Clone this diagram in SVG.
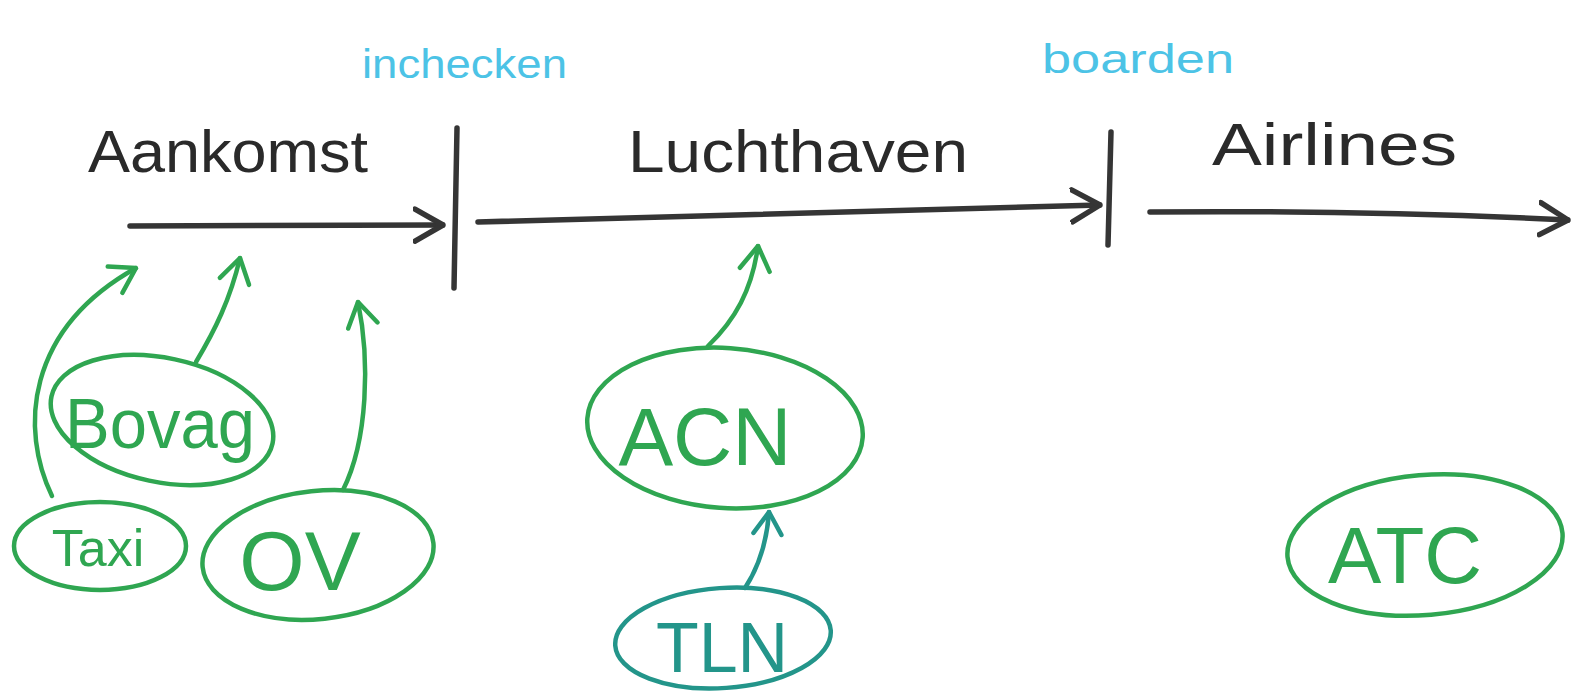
<svg xmlns="http://www.w3.org/2000/svg" width="1573" height="700" viewBox="0 0 1573 700">
<style>
.ink{fill:none;stroke:#353535;stroke-width:5.5;stroke-linecap:round;stroke-linejoin:round}
.g{fill:none;stroke:#2fa651;stroke-width:4.5;stroke-linecap:round;stroke-linejoin:round}
.t{fill:none;stroke:#23958a;stroke-width:4.5;stroke-linecap:round;stroke-linejoin:round}
.lbl{font-family:"Liberation Sans",Arial,sans-serif;fill:#2a2a2a;font-size:60px}
.cy{font-family:"Liberation Sans",Arial,sans-serif;fill:#4cc3e6;font-size:40px}
.gt{font-family:"Liberation Sans",Arial,sans-serif;fill:#2fa651;text-anchor:middle}
.tt{font-family:"Liberation Sans",Arial,sans-serif;fill:#23958a;text-anchor:middle}
</style>
<defs>
<marker id="hb" viewBox="-30 -20 32 40" markerWidth="32" markerHeight="40" refX="0" refY="0" orient="auto" markerUnits="userSpaceOnUse">
<path d="M-28,-16 L0,0 L-28,16" fill="none" stroke="#353535" stroke-width="5.5" stroke-linecap="round" stroke-linejoin="round"/>
</marker>
<marker id="hg" viewBox="-30 -20 32 40" markerWidth="32" markerHeight="40" refX="0" refY="0" orient="auto" markerUnits="userSpaceOnUse">
<path d="M-24,-15 L0,0 L-24,15" fill="none" stroke="#2fa651" stroke-width="4.5" stroke-linecap="round" stroke-linejoin="round"/>
</marker>
<marker id="ht" viewBox="-30 -20 32 40" markerWidth="32" markerHeight="40" refX="0" refY="0" orient="auto" markerUnits="userSpaceOnUse">
<path d="M-22,-14 L0,0 L-22,14" fill="none" stroke="#23958a" stroke-width="4.5" stroke-linecap="round" stroke-linejoin="round"/>
</marker>
</defs>
<rect width="1573" height="700" fill="#ffffff"/>

<g id="labels">
<text class="lbl" x="88" y="172" textLength="280" lengthAdjust="spacingAndGlyphs">Aankomst</text>
<text class="lbl" x="628" y="172" textLength="340" lengthAdjust="spacingAndGlyphs">Luchthaven</text>
<text class="lbl" x="1212" y="165" textLength="245" lengthAdjust="spacingAndGlyphs">Airlines</text>
<text class="cy" x="362" y="78" textLength="205" lengthAdjust="spacingAndGlyphs">inchecken</text>
<text class="cy" x="1042" y="73" textLength="192" lengthAdjust="spacingAndGlyphs">boarden</text>
</g>

<g id="timeline">
<path class="ink" d="M130,226 L443,225" marker-end="url(#hb)"/>
<path class="ink" d="M457,128 L454,288"/>
<path class="ink" d="M478,222 Q800,214 1100,205" marker-end="url(#hb)"/>
<path class="ink" d="M1111,132 L1108,245"/>
<path class="ink" d="M1150,212 Q1360,210 1568,220" marker-end="url(#hb)"/>
</g>

<g id="node-bovag">
<ellipse class="g" cx="162" cy="420" rx="113" ry="62" transform="rotate(12 162 420)"/>
<text class="gt" x="160" y="448" font-size="70" textLength="190" lengthAdjust="spacingAndGlyphs">Bovag</text>
</g>
<g id="node-taxi">
<ellipse class="g" cx="100" cy="546" rx="86" ry="44"/>
<text class="gt" x="98" y="566" font-size="52">Taxi</text>
</g>
<g id="node-ov">
<ellipse class="g" cx="318" cy="555" rx="116" ry="64" transform="rotate(-6 318 555)"/>
<text class="gt" x="300" y="590" font-size="84">OV</text>
</g>
<g id="node-acn">
<ellipse class="g" cx="725" cy="428" rx="138" ry="80" transform="rotate(4 725 428)"/>
<text class="gt" x="705" y="465" font-size="82">ACN</text>
</g>
<g id="node-tln">
<ellipse class="t" cx="723" cy="638" rx="108" ry="50" transform="rotate(-4 723 638)"/>
<text class="tt" x="722" y="672" font-size="70">TLN</text>
</g>
<g id="node-atc">
<ellipse class="g" cx="1425" cy="545" rx="138" ry="70" transform="rotate(-5 1425 545)"/>
<text class="gt" x="1405" y="583" font-size="80">ATC</text>
</g>

<g id="connectors">
<path class="g" d="M52,496 C20,430 25,330 136,268" marker-end="url(#hg)"/>
<path class="g" d="M196,362 C215,330 230,300 240,258" marker-end="url(#hg)"/>
<path class="g" d="M343,490 C368,440 370,360 358,302" marker-end="url(#hg)"/>
<path class="g" d="M708,346 C735,320 752,290 758,246" marker-end="url(#hg)"/>
<path class="t" d="M745,588 C760,565 767,540 769,512" marker-end="url(#ht)"/>
</g>
</svg>
